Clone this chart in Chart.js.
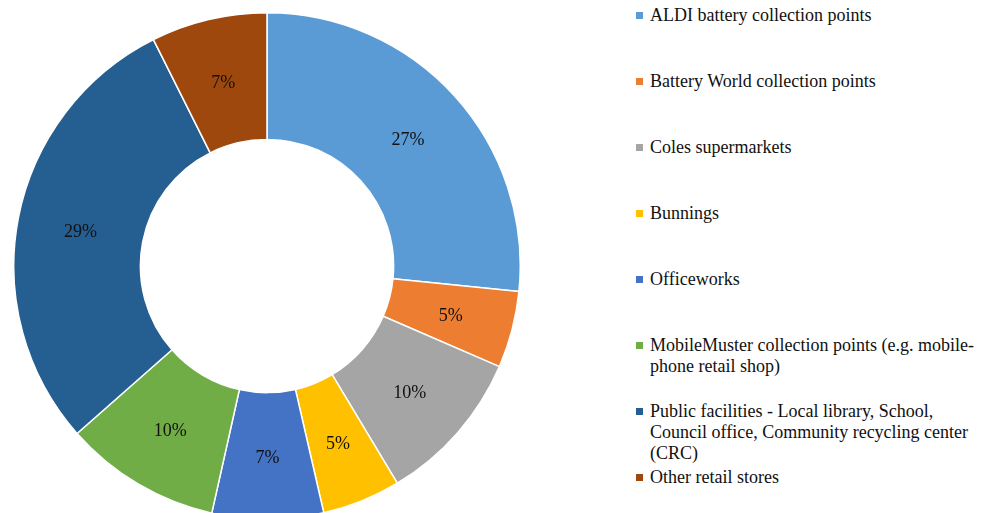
<!DOCTYPE html>
<html>
<head>
<meta charset="utf-8">
<script src="https://cdn.jsdelivr.net/npm/chart.js@4.4.1/dist/chart.umd.min.js"></script>
<style>
  html, body { margin: 0; padding: 0; background: #fff; width: 986px; height: 513px; overflow: hidden; }
  #chart-box { position: absolute; left: 13px; top: 12px; width: 508px; height: 508px; }
  #legend { position: absolute; left: 636px; top: 4.5px; font-family: 'Liberation Serif', serif; font-size: 18px; line-height: 21px; color: #111; }
  .item { position: relative; height: 66px; padding-left: 14px; white-space: nowrap; }
  .swatch { position: absolute; left: 0; top: 7px; width: 7px; height: 7px; }
</style>
</head>
<body>
<div id="chart-box"><canvas id="chart-donut"></canvas></div>
<div id="legend"></div>
<script>
// categorias (multilinea donde el original corta la linea)
const categories = [
  ["ALDI battery collection points"],
  ["Battery World collection points"],
  ["Coles supermarkets"],
  ["Bunnings"],
  ["Officeworks"],
  ["MobileMuster collection points (e.g. mobile-", "phone retail shop)"],
  ["Public facilities - Local library, School,", "Council office, Community recycling center", "(CRC)"],
  ["Other retail stores"]
];
// porcentajes estimados a partir de los angulos
const shares = [26.6, 4.9, 9.9, 5.0, 7.1, 10.0, 29.1, 7.4];
const colors = ["#5B9BD5", "#ED7D31", "#A5A5A5", "#FFC000", "#4472C4", "#70AD47", "#255E91", "#9E480E"];

// Etiquetas de porcentaje sobre cada sector
const sliceLabels = {
  id: "sliceLabels",
  afterDatasetsDraw(chart) {
    const ctx = chart.ctx;
    const meta = chart.getDatasetMeta(0);
    const total = shares.reduce((a, b) => a + b, 0);
    ctx.save();
    ctx.font = "18px 'Liberation Serif', serif";
    ctx.fillStyle = "#111";
    ctx.textAlign = "center";
    ctx.textBaseline = "middle";
    meta.data.forEach((arc, i) => {
      const pos = arc.tooltipPosition();
      ctx.fillText(Math.round(shares[i] / total * 100) + "%", pos.x, pos.y + 2);
    });
    ctx.restore();
  }
};

// Leyenda en HTML (el original tiene entradas de varias lineas)
const legend = document.getElementById("legend");
categories.forEach((lines, i) => {
  const item = document.createElement("div");
  item.className = "item";
  const sw = document.createElement("span");
  sw.className = "swatch";
  sw.style.background = colors[i];
  item.appendChild(sw);
  lines.forEach((line, j) => {
    if (j > 0) item.appendChild(document.createElement("br"));
    item.appendChild(document.createTextNode(line));
  });
  legend.appendChild(item);
});

function drawChart() {
  new Chart(document.getElementById("chart-donut").getContext("2d"), {
    type: "doughnut",
    data: {
      labels: categories.map(c => c.join(" ")),
      datasets: [{
        data: shares,
        backgroundColor: colors,
        borderColor: "#fff",
        borderWidth: 1.5
      }]
    },
    options: {
      responsive: true,
      maintainAspectRatio: false,
      animation: false,
      cutout: "50%",
      layout: { padding: 0 },
      plugins: {
        legend: { display: false },
        tooltip: { enabled: false }
      }
    },
    plugins: [sliceLabels]
  });
}

document.fonts.load("18px 'Liberation Serif'").then(drawChart, drawChart);
</script>
</body>
</html>
